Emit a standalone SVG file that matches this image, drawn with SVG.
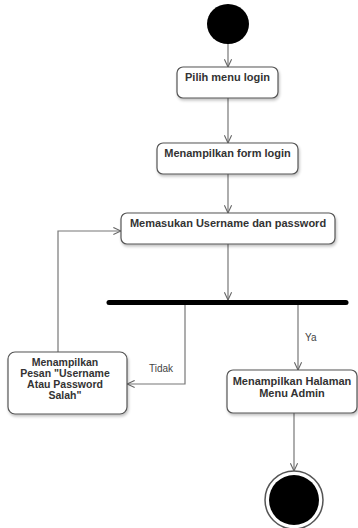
<svg xmlns="http://www.w3.org/2000/svg" width="358" height="528" viewBox="0 0 358 528">
  <defs>
    <marker id="arrow" viewBox="0 0 10 10" refX="9.5" refY="5" markerWidth="9" markerHeight="9" markerUnits="userSpaceOnUse" orient="auto">
      <path d="M1,1 L9.5,5 L1,9" fill="none" stroke="#666" stroke-width="1.2"/>
    </marker>
    <filter id="shadow" x="-10%" y="-10%" width="125%" height="130%">
      <feGaussianBlur in="SourceAlpha" stdDeviation="1.5"/>
      <feOffset dx="1" dy="2" result="b"/>
      <feComponentTransfer><feFuncA type="linear" slope="0.25"/></feComponentTransfer>
      <feMerge><feMergeNode/><feMergeNode in="SourceGraphic"/></feMerge>
    </filter>
  </defs>
  <style>
    .act { fill: #fff; stroke: #555; stroke-width: 1.2; filter: url(#shadow); }
    .lbl { font-family: "Liberation Sans", Arial, sans-serif; font-size: 11px; font-weight: bold; fill: #333; text-anchor: middle; }
    .small { font-size: 10.5px; }
    .guard { font-family: "Liberation Sans", Arial, sans-serif; font-size: 10px; fill: #444; }
    .flow { fill: none; stroke: #777; stroke-width: 1.2; marker-end: url(#arrow); }
  </style>
  <rect width="358" height="528" fill="#fff"/>

  <g id="connectors">
    <path class="flow" d="M228,44 L228,67"/>
    <path class="flow" d="M228,98 L228,143"/>
    <path class="flow" d="M228,174 L228,213"/>
    <path class="flow" d="M228,244 L228,300"/>
    <path class="flow" d="M298,305 L298,370"/>
    <path class="flow" d="M185,305 L185,384 L127,384"/>
    <path class="flow" d="M58,352 L58,231 L121,231"/>
    <path class="flow" d="M294,413 L294,471"/>
    <text class="guard" x="149" y="372">Tidak</text>
    <text class="guard" x="305" y="341">Ya</text>
  </g>

  <g id="start">
    <ellipse cx="228" cy="24" rx="21" ry="20" fill="#000"/>
  </g>

  <g id="pilih-menu-login">
    <rect class="act" x="177" y="67" width="101" height="31" rx="6"/>
    <text class="lbl" x="227.5" y="81">Pilih menu login</text>
  </g>

  <g id="tampil-form-login">
    <rect class="act" x="157" y="143" width="141" height="31" rx="6"/>
    <text class="lbl" x="227.5" y="157">Menampilkan form login</text>
  </g>

  <g id="masukan-username">
    <rect class="act" x="121" y="213" width="214" height="31" rx="6"/>
    <text class="lbl" x="228" y="227">Memasukan Username dan password</text>
  </g>

  <g id="fork-bar">
    <line x1="109" y1="302.5" x2="346" y2="302.5" stroke="#000" stroke-width="5" stroke-linecap="round"/>
  </g>

  <g id="pesan-salah">
    <rect class="act" x="8" y="352" width="119" height="62" rx="7"/>
    <text class="lbl small" x="65" y="366">Menampilkan</text>
    <text class="lbl small" x="65" y="377">Pesan "Username</text>
    <text class="lbl small" x="65" y="388">Atau Password</text>
    <text class="lbl small" x="65" y="399">Salah"</text>
  </g>

  <g id="halaman-admin">
    <rect class="act" x="227" y="370" width="130" height="43" rx="6"/>
    <text class="lbl" x="292" y="385">Menampilkan Halaman</text>
    <text class="lbl" x="292" y="397">Menu Admin</text>
  </g>

  <g id="end">
    <circle cx="294" cy="500" r="29" fill="#fff" stroke="#555" stroke-width="1.5"/>
    <circle cx="294" cy="500" r="25" fill="#000"/>
  </g>
</svg>
